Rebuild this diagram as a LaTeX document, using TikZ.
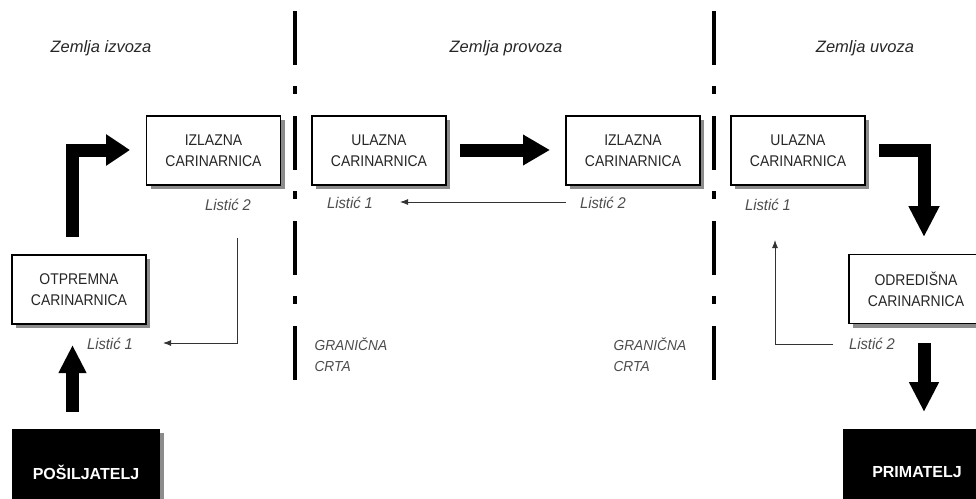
\documentclass[tikz,border=0pt]{standalone}
\usepackage{fontspec}
\setmainfont{Liberation Sans}
\newfontfamily\boxfont[FakeStretch=0.9]{Liberation Sans}
\newfontfamily\labfont[FakeStretch=0.95]{Liberation Sans}
\usetikzlibrary{arrows.meta,shadows}
\begin{document}
\begin{tikzpicture}[x=1pt,y=-1pt,
  cbox/.style={draw=black, line width=1.2pt, fill=white, minimum width=134pt, minimum height=69pt,
    inner sep=0pt, align=center, font=\boxfont\fontsize{15.5}{21}\selectfont, text=black!85,
    drop shadow={shadow xshift=4pt, shadow yshift=-4pt, fill=black!45, opacity=1}},
  blackbox/.style={fill=black, minimum width=148pt, minimum height=86pt, inner sep=0pt,
    font=\bfseries\fontsize{16}{18}\selectfont, text=white,
    drop shadow={shadow xshift=4pt, shadow yshift=-4pt, fill=black!45, opacity=1}},
  region/.style={font=\itshape\fontsize{16.5}{18}\selectfont, text=black!85},
  slip/.style={font=\labfont\itshape\fontsize{15.5}{17}\selectfont, text=black!70},
  border/.style={font=\labfont\itshape\fontsize{14.5}{21}\selectfont, text=black!70, align=left, anchor=west},
  bigarrow/.style={line width=13pt, line join=miter, -{Triangle[length=27pt,width=29pt]}},
  thinarrow/.style={line width=0.9pt, draw=black!80, -{Latex[length=8pt,width=6pt]}},
  sepline/.style={line width=3.5pt, dash pattern=on 54pt off 21pt on 8pt off 22pt}
]
\clip (0,0) rectangle (976,498);
\useasboundingbox (0,0) rectangle (976,498);

% separator lines
\draw[sepline] (295,11) -- (295,380);
\draw[sepline] (714,11) -- (714,380);

% region titles
\node[region] (zi) at (101,48) {Zemlja izvoza};
\node[region] (zp) at (506,48) {Zemlja provoza};
\node[region] (zu) at (865,48) {Zemlja uvoza};

% boxes
\node[cbox] (izl1) at (213.5,150.5) {IZLAZNA\\CARINARNICA};
\node[cbox] (ul2) at (379,150.5) {ULAZNA\\CARINARNICA};
\node[cbox] (izl2) at (633,150.5) {IZLAZNA\\CARINARNICA};
\node[cbox] (ul3) at (798,150.5) {ULAZNA\\CARINARNICA};
\node[cbox] (otp) at (79,289.5) {OTPREMNA\\CARINARNICA};
\node[cbox] (odr) at (916,289) {ODREDIŠNA\\CARINARNICA};
\node[blackbox] (pos) at (86,472) {POŠILJATELJ};
\node[blackbox] (pri) at (917,472) {PRIMATELJ};

% slip labels
\node[slip] (l12) at (228,205) {Listić 2};
\node[slip] (l21) at (350,203) {Listić 1};
\node[slip] (l22) at (603,203) {Listić 2};
\node[slip] (l31) at (768,205) {Listić 1};
\node[slip] (l11) at (110,344) {Listić 1};
\node[slip] (l32) at (872,344) {Listić 2};

% border labels
\node[border] (g1) at (311,354.5) {GRANIČNA\\CRTA};
\node[border] (g2) at (610,354.5) {GRANIČNA\\CRTA};

% big arrows
\coordinate (a1s) at (72.5,237);
\coordinate (a1c) at (72.5,150);
\coordinate (a1e) at (130,150);
\draw[bigarrow, -{Triangle[length=24pt,width=30pt]}] (a1s) -- (a1c) -- (a1e);

\coordinate (a2s) at (460,150);
\coordinate (a2e) at (550,150);
\draw[bigarrow] (a2s) -- (a2e);

\coordinate (a3s) at (879,150);
\coordinate (a3c) at (924,150);
\coordinate (a3e) at (924,237);
\draw[bigarrow, -{Triangle[length=31pt,width=29pt]}] (a3s) -- (a3c) -- (a3e);

\coordinate (a4s) at (72.5,412);
\coordinate (a4e) at (72.5,345);
\draw[bigarrow, -{Triangle[length=28pt,width=26pt]}] (a4s) -- (a4e);

\coordinate (a5s) at (924,343);
\coordinate (a5e) at (924,412);
\draw[bigarrow, -{Triangle[length=30pt,width=28pt]}] (a5s) -- (a5e);

% thin arrows
\coordinate (t1s) at (237,238);
\coordinate (t1c) at (237,343);
\coordinate (t1e) at (163,343);
\draw[thinarrow] (t1s) -- (t1c) -- (t1e);

\coordinate (t2s) at (566,202);
\coordinate (t2e) at (400,202);
\draw[thinarrow] (t2s) -- (t2e);

\coordinate (t3s) at (833,344);
\coordinate (t3c) at (775,344);
\coordinate (t3e) at (775,240);
\draw[thinarrow] (t3s) -- (t3c) -- (t3e);
\end{tikzpicture}
\end{document}
